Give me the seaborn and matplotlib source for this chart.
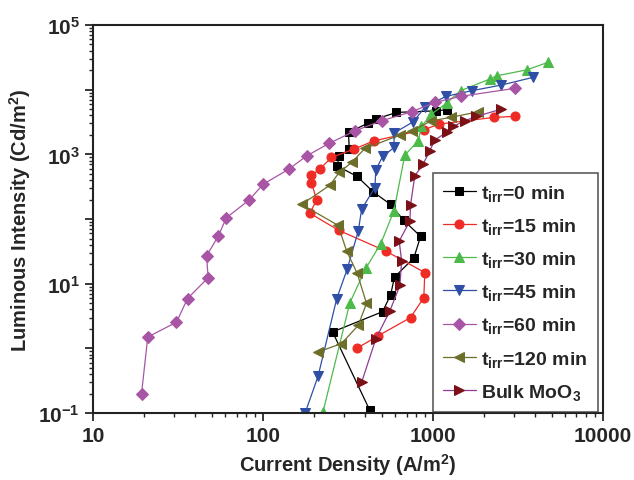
import numpy as np
import pandas as pd
import matplotlib
matplotlib.use('Agg')
import matplotlib.pyplot as plt
import matplotlib.ticker as mticker
import seaborn as sns

# current density (A/m2) and luminous intensity (Cd/m2)
x_0 = [426, 257, 506, 564, 595, 773, 847, 675, 564, 446, 359, 273, 281, 322, 319, 416, 462, 611, 1042, 1213]
y_0 = [0.11, 1.8, 3.7, 6.7, 12.7, 25, 54, 95, 168, 263, 455, 664, 927, 1204, 2183, 3040, 3510, 4450, 4710, 4890]

x_15 = [356, 473, 739, 885, 897, 529, 279, 189, 207, 193, 193, 216, 253, 343, 450, 885, 1084, 2286, 3034]
y_15 = [1.0, 1.55, 3.0, 6.1, 14.9, 32, 67, 123, 198, 367, 476, 590, 895, 1204, 1617, 2395, 2934, 3725, 3864]

x_30 = [226, 325, 403, 494, 590, 684, 820, 857, 982, 1205, 1455, 2162, 2388, 3590, 4767]
y_30 = [0.106, 5.1, 17.3, 41.8, 133, 972, 1617, 2704, 4190, 6200, 9620, 14600, 16400, 20300, 26500]

x_45 = [177, 211, 272, 313, 364, 381, 456, 462, 506, 592, 590, 766, 897, 1191, 1690, 2535, 3890]
y_45 = [0.10, 0.37, 5.9, 16.7, 65, 142, 307, 575, 927, 1279, 2130, 3185, 5320, 7870, 9620, 11800, 15500]

x_60 = [19.3, 21.0, 31, 36, 47.6, 46.6, 54.6, 61, 82.8, 100.4, 142, 181, 245, 348, 499, 750, 1028, 1455, 3034]
y_60 = [0.20, 1.50, 2.55, 5.9, 12.4, 26.8, 54.7, 105, 196, 346, 590, 948, 1475, 2310, 3300, 4550, 6360, 7870, 10480]

x_120 = [211, 290, 364, 407, 359, 311, 277, 169, 248, 281, 333, 398, 640, 750, 982, 1271, 1845]
y_120 = [0.88, 1.19, 2.27, 4.97, 14.5, 32, 80, 168, 334, 525, 750, 1234, 1983, 2310, 3300, 3725, 4550]

x_bulk = [381, 462, 558, 640, 655, 634, 733, 739, 783, 877, 959, 1028, 1205, 1316, 1542, 1807, 2535]
y_bulk = [0.30, 1.41, 3.78, 9.4, 22.5, 45.8, 93, 164, 465, 705, 1133, 1676, 2183, 2704, 3300, 3864, 5010]

labels = [r'$\mathbf{t_{irr}}$=0 min', r'$\mathbf{t_{irr}}$=15 min', r'$\mathbf{t_{irr}}$=30 min',
          r'$\mathbf{t_{irr}}$=45 min', r'$\mathbf{t_{irr}}$=60 min', r'$\mathbf{t_{irr}}$=120 min',
          r'Bulk MoO$\mathbf{_3}$']

sns.set_style('ticks')
plt.rcParams['font.family'] = ['Liberation Sans', 'DejaVu Sans']
plt.rcParams['font.weight'] = 'bold'
plt.rcParams['mathtext.fontset'] = 'custom'
plt.rcParams['mathtext.rm'] = 'Liberation Sans:bold'
plt.rcParams['mathtext.bf'] = 'Liberation Sans:bold'
plt.rcParams['mathtext.it'] = 'Liberation Sans:bold'

fig = plt.figure(figsize=(6.34, 4.81), dpi=100)
ax = fig.add_axes([0.1467, 0.139, 0.804, 0.807])

series = [
    (x_0, y_0, 's', 'black', 'black', 5.5),
    (x_15, y_15, 'o', '#ee2b24', '#ee2b24', 6.5),
    (x_30, y_30, '^', '#4dbb4a', '#4dbb4a', 7.5),
    (x_45, y_45, 'v', '#2e4fa5', '#2e4fa5', 7.5),
    (x_60, y_60, 'D', '#a955a6', '#a955a6', 6),
    (x_120, y_120, '<', '#6e6e2b', '#6e6e2b', 7.5),
    (x_bulk, y_bulk, '>', '#7b1016', '#8e3d93', 7.5),
]

for (xs, ys, mk, mc, lc, ms), lab in zip(series, labels):
    df = pd.DataFrame({'x': xs, 'y': ys})
    sns.lineplot(data=df, x='x', y='y', sort=False, estimator=None, ax=ax,
                 color=lc, linewidth=0.9, marker=mk, markersize=ms,
                 markerfacecolor=mc, markeredgecolor=mc, label=lab)

ax.set_xscale('log')
ax.set_yscale('log')
ax.set_xlim(10, 10000)
ax.set_ylim(0.1, 100000)

ax.xaxis.set_major_locator(mticker.FixedLocator([10, 100, 1000, 10000]))
ax.xaxis.set_major_formatter(mticker.FixedFormatter(['10', '100', '1000', '10000']))
ax.xaxis.set_minor_locator(mticker.LogLocator(base=10, subs=np.arange(2, 10)))
ax.xaxis.set_minor_formatter(mticker.NullFormatter())

yt = [10.0 ** e for e in range(-1, 6)]
ytl = [r'$\mathbf{10^{%d}}$' % e if e % 2 else '' for e in range(-1, 6)]
ax.yaxis.set_major_locator(mticker.FixedLocator(yt))
ax.yaxis.set_major_formatter(mticker.FixedFormatter(ytl))
ax.yaxis.set_minor_locator(mticker.LogLocator(base=10, subs=np.arange(2, 10)))
ax.yaxis.set_minor_formatter(mticker.NullFormatter())

ax.tick_params(axis='both', which='major', direction='out', length=6, width=1.3,
               labelsize=15, top=False, right=False)
ax.tick_params(axis='both', which='minor', direction='out', length=3, width=1.0,
               top=False, right=False)
for s in ax.spines.values():
    s.set_visible(True)
    s.set_linewidth(1.5)
    s.set_color('#222222')

ax.set_xlabel(r'Current Density (A/m$\mathbf{^2}$)', fontsize=14.5, fontweight='bold')
ax.set_ylabel(r'Luminous Intensity (Cd/m$\mathbf{^2}$)', fontsize=14.5, fontweight='bold')

leg = ax.legend(loc='lower right', bbox_to_anchor=(0.99, 0.004), borderaxespad=0,
                fontsize=14, frameon=True, fancybox=False, edgecolor='#333333',
                handlelength=1.7, labelspacing=0.68, borderpad=0.5, handletextpad=0.3)
leg.get_frame().set_linewidth(1.2)

fig.savefig('out.png', dpi=100)
